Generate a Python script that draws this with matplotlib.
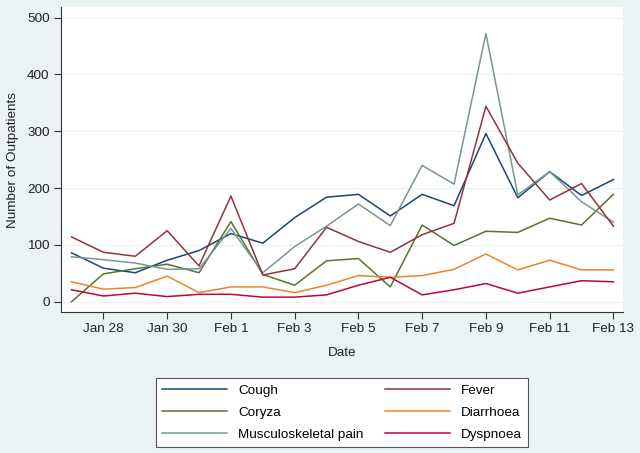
import numpy as np
import matplotlib
matplotlib.use('Agg')
import matplotlib.pyplot as plt

plt.rcParams['font.family'] = ['Liberation Sans', 'DejaVu Sans']

# daily counts, Jan 27 .. Feb 13
dates = ['Jan 27', 'Jan 28', 'Jan 29', 'Jan 30', 'Jan 31', 'Feb 1', 'Feb 2', 'Feb 3', 'Feb 4',
         'Feb 5', 'Feb 6', 'Feb 7', 'Feb 8', 'Feb 9', 'Feb 10', 'Feb 11', 'Feb 12', 'Feb 13']
cough = [86, 59, 51, 73, 90, 120, 103, 148, 184, 189, 151, 189, 169, 296, 183, 229, 187, 215]
fever = [114, 87, 80, 125, 63, 186, 47, 58, 131, 106, 87, 118, 138, 344, 244, 179, 208, 133]
coryza = [0, 49, 58, 66, 51, 141, 48, 29, 72, 76, 26, 135, 99, 124, 122, 147, 135, 189]
msk_pain = [79, 74, 68, 57, 58, 129, 51, 97, 133, 172, 134, 240, 207, 472, 188, 229, 176, 140]
diarrhoea = [35, 22, 25, 45, 16, 26, 26, 16, 29, 46, 43, 46, 57, 84, 56, 73, 56, 56]
dyspnoea = [21, 10, 15, 9, 13, 13, 8, 8, 12, 29, 43, 12, 21, 32, 15, 26, 37, 35]

# listed column by column so the 2-col legend reads row-wise like the original
series = [('Cough', cough, '#1a476f'),
          ('Coryza', coryza, '#55752f'),
          ('Musculoskeletal pain', msk_pain, '#7a9697'),
          ('Fever', fever, '#90353b'),
          ('Diarrhoea', diarrhoea, '#e8862a'),
          ('Dyspnoea', dyspnoea, '#c10534')]

W, H = 640, 453
fs = 9.7
fig = plt.figure(figsize=(6.4, 4.53), dpi=100)
fig.patch.set_facecolor('#eaf2f3')
ax = fig.add_axes([60.7/W, 1-311.7/H, (623.3-60.7)/W, (311.7-7.3)/H])
ax.set_facecolor('white')

x = np.arange(len(dates))
lines = []
for name, vals, col in series:
    l, = ax.plot(x, vals, color=col, lw=1.1, label=name)
    lines.append(l)

ax.set_xlim(-0.34, 17.31)
ax.set_ylim(-17.6, 518.3)
ax.set_yticks([0, 100, 200, 300, 400, 500])
ax.set_xticks(x[1::2])
ax.set_xticklabels(dates[1::2])
ax.grid(axis='y', color='#eaf2f3', lw=0.8)
ax.set_axisbelow(True)
for s in ['top', 'right']:
    ax.spines[s].set_visible(False)
for s in ['left', 'bottom']:
    ax.spines[s].set_color('#333333')
    ax.spines[s].set_linewidth(0.8)
ax.tick_params(length=5, width=0.8, color='#333333', labelsize=fs, labelcolor='#222222', pad=3)
ax.set_xlabel('Date', fontsize=fs, labelpad=9, color='#222222')
ax.set_ylabel('Number of Outpatients', fontsize=fs, labelpad=6, color='#222222')

leg = fig.legend(handles=lines, ncol=2, loc='lower left',
                 bbox_to_anchor=(155.7/W, 1-447.3/H, (528.3-155.7)/W, (447.3-367.7)/H),
                 mode='expand', fontsize=fs, handlelength=4.8, handletextpad=0.8,
                 labelspacing=0.7, borderaxespad=0, borderpad=0.5, fancybox=False,
                 frameon=True, edgecolor='#555555', facecolor='white', framealpha=1)
leg.get_frame().set_linewidth(0.8)

plt.savefig('out.png', dpi=100, facecolor=fig.get_facecolor())
